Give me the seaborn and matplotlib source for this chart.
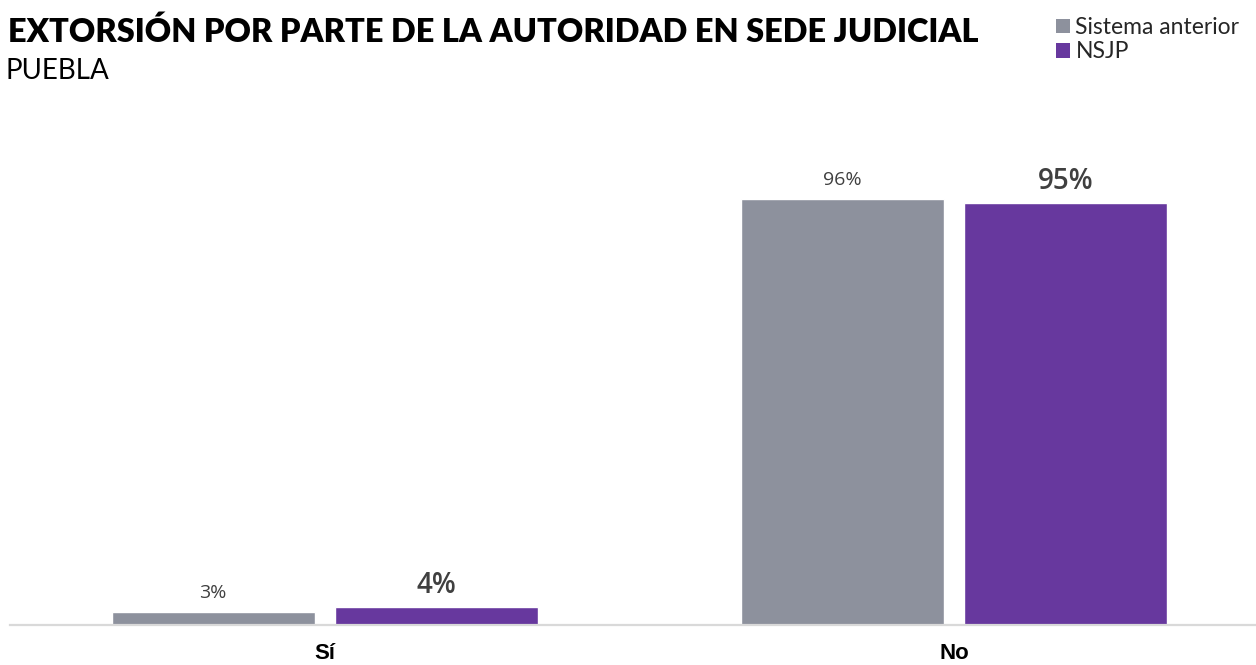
import matplotlib
matplotlib.use("Agg")
import matplotlib.pyplot as plt
from matplotlib.patches import Patch
import seaborn as sns
import pandas as pd

categories = ["Sí", "No"]
series = ["Sistema anterior", "NSJP"]
sistema_anterior = [3, 96]
nsjp = [4, 95]
colors = ["#8D919D", "#67389E"]

title = "EXTORSIÓN POR PARTE DE LA AUTORIDAD EN SEDE JUDICIAL"
subtitle = "PUEBLA"

df = pd.DataFrame({
    "categoria": categories * 2,
    "serie": [series[0]] * len(categories) + [series[1]] * len(categories),
    "valor": sistema_anterior + nsjp,
})

sns.set_theme(style="white")
plt.rcParams["font.family"] = ["Lato", "DejaVu Sans"]

fig = plt.figure(figsize=(12.56, 6.65), dpi=100)
ax = fig.add_axes([10 / 1256, 40 / 665, 1246 / 1256, 444 / 665])

sns.barplot(data=df, x="categoria", y="valor", hue="serie", order=categories,
            hue_order=series, palette=colors, width=0.709, gap=0.09,
            saturation=1, legend=False, ax=ax)

ax.set_xlim(-0.5, 1.48)
ax.set_ylim(0, 100)
ax.set_xlabel("")
ax.set_ylabel("")
ax.set_yticks([])
for side in ["top", "right", "left"]:
    ax.spines[side].set_visible(False)
ax.spines["bottom"].set_color("#D9D9D9")
ax.spines["bottom"].set_linewidth(1.6)
ax.tick_params(axis="x", length=0, pad=13)
for lbl in ax.get_xticklabels():
    lbl.set_fontfamily(["Liberation Sans", "DejaVu Sans"])
    lbl.set_fontweight("bold")
    lbl.set_fontsize(16)
    lbl.set_color("#000000")

# value labels: previous system in regular type, NSJP emphasised
for container, style in zip(ax.containers, [dict(fontsize=14, fontweight="normal", padding=7),
                                             dict(fontsize=20, fontweight="semibold", padding=5)]):
    labels = [f"{int(v)}%" for v in container.datavalues]
    ax.bar_label(container, labels=labels, color="#404040",
                 fontfamily=["Open Sans", "DejaVu Sans"], **style)

fig.text(8 / 1256, 1 - 42 / 665, title, fontsize=23.4, fontweight="heavy",
         color="#000000", ha="left", va="baseline")
fig.text(6 / 1256, 1 - 79 / 665, subtitle, fontsize=20, color="#000000",
         ha="left", va="baseline")

handles = [Patch(facecolor=c, edgecolor="none") for c in colors]
fig.legend(handles, series, loc="upper left", bbox_to_anchor=(1056 / 1256, 1 - 17 / 665),
           frameon=False, fontsize=16.5, handlelength=0.6, handleheight=0.6,
           handletextpad=0.25, labelspacing=0.15, borderaxespad=0, borderpad=0)

fig.savefig("out.png", dpi=100)
